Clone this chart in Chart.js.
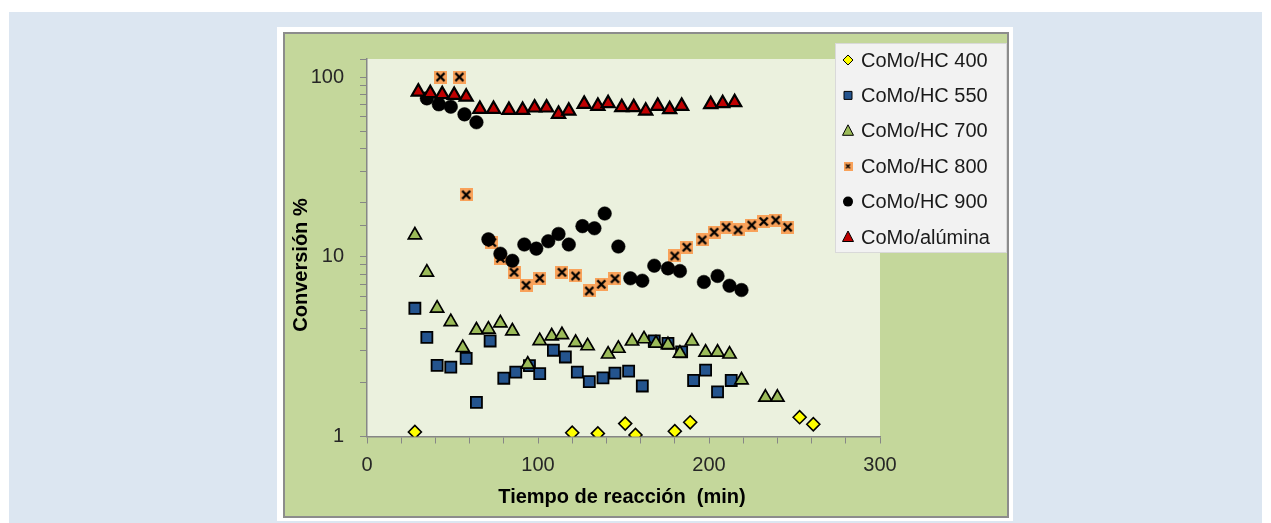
<!DOCTYPE html>
<html>
<head>
<meta charset="utf-8">
<title>Conversión vs tiempo de reacción</title>
<script src="https://cdn.jsdelivr.net/npm/chart.js@4.4.1/dist/chart.umd.min.js"></script>
<style>
  html, body { margin: 0; padding: 0; background: #fff; }
  #wrap { width: 1271px; height: 523px; position: relative; }
</style>
</head>
<body>
<div id="wrap"><canvas id="myChart" width="1271" height="523"></canvas></div>
<script>
// tiempo (min) y conversión (%)
var t400 = [28, 120, 135, 151, 157, 180, 189, 253, 261];
var v400 = [1.06, 1.05, 1.04, 1.18, 1.02, 1.07, 1.20, 1.28, 1.17];

var t550 = [28, 35, 41, 49, 58, 64, 72, 80, 87, 95, 101, 109, 116, 123, 130, 138, 145, 153, 161, 168, 176, 184, 191, 198, 205, 213];
var v550 = [5.17, 3.56, 2.49, 2.43, 2.72, 1.55, 3.40, 2.11, 2.28, 2.48, 2.24, 3.02, 2.77, 2.28, 2.02, 2.12, 2.25, 2.31, 1.91, 3.40, 3.30, 2.96, 2.05, 2.34, 1.77, 2.05];

var t700 = [28, 35, 41, 49, 56, 64, 71, 78, 85, 94, 101, 108, 114, 122, 129, 141, 147, 155, 162, 169, 176, 183, 190, 198, 205, 212, 219, 233, 240];
var v700 = [13.2, 8.2, 5.17, 4.35, 3.12, 3.91, 3.95, 4.28, 3.86, 2.52, 3.41, 3.62, 3.68, 3.33, 3.19, 2.87, 3.09, 3.39, 3.49, 3.30, 3.24, 2.90, 3.39, 2.94, 2.94, 2.87, 2.06, 1.65, 1.65];

var t800 = [43, 54, 58, 73, 78, 86, 93, 101, 114, 122, 130, 137, 145, 180, 187, 196, 203, 210, 217, 225, 232, 239, 246];
var v800 = [100, 100, 22.1, 12.0, 9.8, 8.2, 6.94, 7.59, 8.2, 7.82, 6.45, 7.03, 7.55, 10.1, 11.3, 12.4, 13.7, 14.6, 14.1, 15.0, 15.7, 16.0, 14.6];

var t900 = [35, 42, 49, 57, 64, 71, 78, 85, 92, 99, 106, 112, 118, 126, 133, 139, 147, 154, 161, 168, 176, 183, 197, 205, 212, 219];
var v900 = [76.1, 70.5, 68.4, 62.0, 56.0, 12.5, 10.4, 9.5, 11.7, 11.1, 12.2, 13.4, 11.7, 14.8, 14.4, 17.4, 11.4, 7.59, 7.36, 8.92, 8.62, 8.33, 7.24, 7.82, 6.90, 6.53];

var tAlu = [30, 37, 44, 51, 58, 66, 74, 83, 91, 98, 105, 112, 118, 127, 135, 141, 149, 156, 163, 170, 177, 184, 201, 208, 215];
var vAlu = [82.8, 81.2, 80.1, 79.4, 77.6, 66.3, 66.3, 65.5, 65.5, 67.5, 67.5, 62.3, 64.9, 70.8, 69.0, 71.4, 67.8, 67.8, 64.9, 69.0, 66.1, 69.0, 70.5, 71.4, 72.3];

var xTickLabels = [0, 100, 200, 300];
var yTickLabels = [1, 10, 100];

function pts(t, v) {
  return t.map(function (x, i) { return { x: x, y: v[i] }; });
}

// orange square with black cross, like the excel "x" marker
function xMarker(size, lw) {
  var c = document.createElement('canvas');
  c.width = size; c.height = size;
  var g = c.getContext('2d');
  g.fillStyle = '#f9a25a';
  g.fillRect(0, 0, size, size);
  g.strokeStyle = '#000';
  g.lineWidth = lw;
  var a = 2.5, b = size - 2.5;
  g.beginPath();
  g.moveTo(a, a); g.lineTo(b, b);
  g.moveTo(b, a); g.lineTo(a, b);
  g.stroke();
  return c;
}
var mark800 = xMarker(13, 2.4);
var mark800small = xMarker(9, 1.4);

var FONT = "'Liberation Sans', Arial, sans-serif";

var bgPlugin = {
  id: 'bg',
  beforeDraw: function (chart) {
    var ctx = chart.ctx, a = chart.chartArea;
    ctx.save();
    ctx.fillStyle = '#ffffff';
    ctx.fillRect(0, 0, 1271, 523);
    ctx.fillStyle = '#dce6f1';
    ctx.fillRect(9, 12, 1253, 511);
    ctx.fillStyle = '#ffffff';
    ctx.fillRect(277, 27, 736, 494);
    ctx.fillStyle = '#c4d79b';
    ctx.fillRect(284, 33, 724, 484);
    ctx.strokeStyle = '#8c8c8c';
    ctx.lineWidth = 2;
    ctx.strokeRect(284, 33, 724, 484);
    ctx.fillStyle = '#ebf1de';
    ctx.fillRect(a.left, a.top, a.right - a.left, a.bottom - a.top);
    ctx.restore();
  },
  afterDraw: function (chart) {
    var ctx = chart.ctx;
    ctx.save();
    // axis titles
    ctx.fillStyle = '#000';
    ctx.font = 'bold 20px ' + FONT;
    ctx.textAlign = 'center';
    ctx.textBaseline = 'middle';
    ctx.fillText('Tiempo de reacción  (min)', 622, 497);
    ctx.translate(301, 265);
    ctx.rotate(-Math.PI / 2);
    ctx.fillText('Conversión %', 0, 0);
    ctx.restore();

    // legend
    ctx.save();
    ctx.fillStyle = '#f2f2f2';
    ctx.fillRect(835, 43, 172, 210);
    ctx.strokeStyle = '#d9d9d9';
    ctx.lineWidth = 1;
    ctx.strokeRect(835.5, 43.5, 171, 209);
    ctx.font = '20px ' + FONT;
    ctx.textAlign = 'left';
    ctx.textBaseline = 'middle';
    chart.data.datasets.forEach(function (ds, i) {
      var y = 60 + i * 35.4, x = 848;
      drawLegendMark(ctx, ds, x, y);
      ctx.fillStyle = '#1a1a1a';
      ctx.fillText(ds.label, 861, y + 1);
    });
    ctx.restore();
  }
};

function drawLegendMark(ctx, ds, x, y) {
  ctx.save();
  ctx.fillStyle = ds.backgroundColor;
  ctx.strokeStyle = '#000';
  ctx.lineWidth = 1;
  ctx.beginPath();
  if (ds.pointStyle === 'rectRot') {
    ctx.moveTo(x, y - 5); ctx.lineTo(x + 5, y); ctx.lineTo(x, y + 5); ctx.lineTo(x - 5, y);
    ctx.closePath(); ctx.fill(); ctx.stroke();
  } else if (ds.pointStyle === 'rect') {
    ctx.rect(x - 4, y - 4, 8, 8); ctx.fill(); ctx.stroke();
  } else if (ds.pointStyle === 'triangle') {
    ctx.moveTo(x, y - 6); ctx.lineTo(x + 5.5, y + 4.5); ctx.lineTo(x - 5.5, y + 4.5);
    ctx.closePath(); ctx.fill(); ctx.stroke();
  } else if (ds.pointStyle === 'circle') {
    ctx.arc(x, y, 5, 0, Math.PI * 2); ctx.fill();
  } else {
    ctx.drawImage(mark800small, x - 4.5, y - 4.5);
  }
  ctx.restore();
}

var ctx = document.getElementById('myChart').getContext('2d');
var chart = new Chart(ctx, {
  type: 'scatter',
  data: {
    datasets: [
      { label: 'CoMo/HC 400', data: pts(t400, v400), order: 6, pointStyle: 'rectRot', pointRadius: 6.5,
        backgroundColor: '#ffff00', borderColor: '#000', borderWidth: 1.6 },
      { label: 'CoMo/HC 550', data: pts(t550, v550), order: 5, pointStyle: 'rect', pointRadius: 7.8,
        backgroundColor: '#24548e', borderColor: '#000', borderWidth: 1.8 },
      { label: 'CoMo/HC 700', data: pts(t700, v700), order: 4, pointStyle: 'triangle', pointRadius: 7.6,
        backgroundColor: '#9bbb59', borderColor: '#000', borderWidth: 1.7 },
      { label: 'CoMo/HC 800', data: pts(t800, v800), order: 3, pointStyle: mark800, pointRadius: 6,
        backgroundColor: '#f9a25a', borderColor: '#000', borderWidth: 0 },
      { label: 'CoMo/HC 900', data: pts(t900, v900), order: 2, pointStyle: 'circle', pointRadius: 6.8,
        backgroundColor: '#000', borderColor: '#000', borderWidth: 0.5 },
      { label: 'CoMo/alúmina', data: pts(tAlu, vAlu), order: 1, pointStyle: 'triangle', pointRadius: 7.6,
        backgroundColor: '#c00000', borderColor: '#000', borderWidth: 2.2 }
    ]
  },
  options: {
    responsive: false,
    devicePixelRatio: 1,
    animation: false,
    layout: { padding: { left: 0, top: 59, right: 391, bottom: 0 } },
    plugins: { legend: { display: false }, tooltip: { enabled: false } },
    scales: {
      x: {
        type: 'linear', min: 0, max: 300,
        afterFit: function (s) { s.height = 86.5; },
        ticks: {
          stepSize: 20, autoSkip: false, maxRotation: 0, padding: 10,
          color: '#262626', font: { family: FONT, size: 20 },
          callback: function (v) { return xTickLabels.indexOf(v) >= 0 ? String(v) : ''; }
        },
        grid: { drawOnChartArea: false, drawTicks: true, tickLength: 7, color: '#868686', lineWidth: 1 },
        border: { color: '#868686', width: 1.5 }
      },
      y: {
        type: 'logarithmic', min: 1, max: 126,
        afterFit: function (s) { s.width = 367; },
        ticks: {
          autoSkip: false, padding: 16,
          color: '#262626', font: { family: FONT, size: 20 },
          callback: function (v) { return yTickLabels.indexOf(v) >= 0 ? String(v) : ''; }
        },
        grid: { drawOnChartArea: false, drawTicks: true, tickLength: 7, color: '#868686', lineWidth: 1 },
        border: { color: '#868686', width: 1.5 }
      }
    }
  },
  plugins: [bgPlugin]
});
</script>
</body>
</html>
